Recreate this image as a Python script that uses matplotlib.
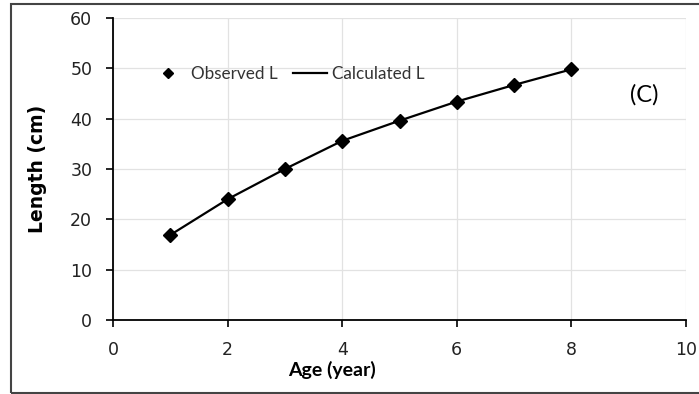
import matplotlib
matplotlib.use('Agg')
import matplotlib.pyplot as plt
from matplotlib.patches import Rectangle

# Data
age = [1, 2, 3, 4, 5, 6, 7, 8]
observed_len = [16.9, 24.0, 30.0, 35.6, 39.6, 43.4, 46.7, 49.8]
calculated_len = [16.9, 24.0, 30.0, 35.6, 39.6, 43.4, 46.7, 49.8]
x_ticks = [0, 2, 4, 6, 8, 10]
y_ticks = [0, 10, 20, 30, 40, 50, 60]

calib = ['Lato', 'DejaVu Sans']

fig = plt.figure(figsize=(6.99, 3.94), dpi=100)
ax = fig.add_axes([0.1617, 0.1878, 0.8197, 0.7665])

# outer frame around the chart
fig.patches.append(Rectangle((11 / 699, 0.002), 1.0, 0.987, transform=fig.transFigure,
                             fill=False, edgecolor='#444444', linewidth=1.5))

ax.plot(age, calculated_len, color='black', linewidth=1.6, label='Calculated L', zorder=3)
ax.plot(age, observed_len, linestyle='none', marker='D', markersize=7, color='black',
        label='Observed L', zorder=4)

ax.set_xlim(0, 10)
ax.set_ylim(0, 60)
ax.set_xticks(x_ticks)
ax.set_yticks(y_ticks)
ax.grid(True, color='#e2e2e2', linewidth=0.9)
ax.set_axisbelow(True)

for side in ['top', 'right']:
    ax.spines[side].set_visible(False)
for side in ['left', 'bottom']:
    ax.spines[side].set_linewidth(1.3)
ax.tick_params(axis='both', direction='out', length=5, width=1.2, labelsize=12.5,
               labelcolor='#222222')
ax.tick_params(axis='x', pad=10)
ax.tick_params(axis='y', pad=10)

ax.set_ylabel('Length (cm)', fontsize=13.5, fontweight='bold')
ax.yaxis.set_label_coords(-0.115, 0.5)
ax.text(0.382, -0.165, 'Age (year)', transform=ax.transAxes, ha='center', va='center',
        fontsize=14, fontweight='bold', family=calib)

ax.text(9.28, 44.7, '(C)', ha='center', va='center', fontsize=17, family=calib)

handles, labels = ax.get_legend_handles_labels()
ax.legend([handles[1], handles[0]], [labels[1], labels[0]], ncol=2, frameon=False,
          loc='center left', bbox_to_anchor=(0.04, 0.815), prop={'family': calib, 'size': 12.3},
          markerscale=0.8, handlelength=2.0, handletextpad=0.3, columnspacing=0.9,
          labelcolor='#333333')

fig.savefig('out.png', dpi=100)
